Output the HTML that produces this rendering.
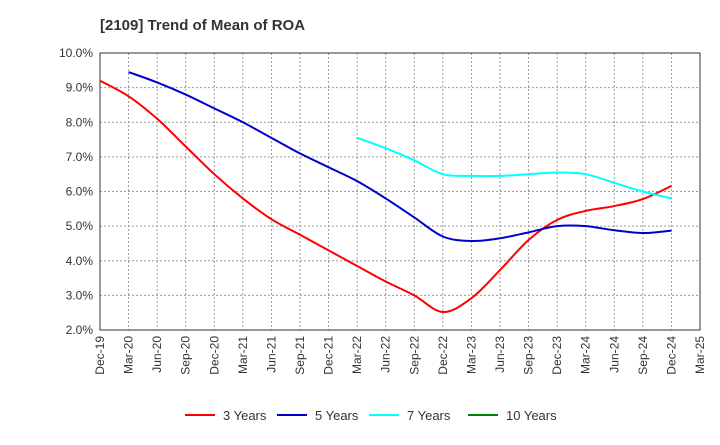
<!DOCTYPE html>
<html><head><meta charset="utf-8"><style>
body{margin:0;background:#fff;font-family:"Liberation Sans",Arial,sans-serif}
svg text{font-family:"Liberation Sans",Arial,sans-serif}
</style></head><body>
<svg id="c" width="720" height="440"></svg>
<script>
const categories=["Dec-19","Mar-20","Jun-20","Sep-20","Dec-20","Mar-21","Jun-21","Sep-21","Dec-21","Mar-22","Jun-22","Sep-22","Dec-22","Mar-23","Jun-23","Sep-23","Dec-23","Mar-24","Jun-24","Sep-24","Dec-24","Mar-25"];
const yTicks=[2,3,4,5,6,7,8,9,10];
const seriesNames=["3 Years","5 Years","7 Years","10 Years"];
const seriesColors=["#ff0000","#0000cc","#00ffff","#008000"];
const s3=[9.2,8.75,8.1,7.3,6.5,5.8,5.2,4.75,4.3,3.85,3.4,3.0,2.52,2.92,3.73,4.6,5.18,5.44,5.58,5.78,6.16];
const s5=[null,9.45,9.15,8.8,8.4,8.0,7.55,7.1,6.7,6.3,5.8,5.25,4.7,4.57,4.65,4.82,5.0,5.0,4.88,4.8,4.87];
const s7=[null,null,null,null,null,null,null,null,null,7.55,7.25,6.9,6.5,6.45,6.45,6.5,6.55,6.5,6.25,6.0,5.8];
const s10=[];
const NS="http://www.w3.org/2000/svg";
const svg=document.getElementById('c');
const L=100,R=700,T=53,B=330;
const x=i=>L+(R-L)*i/(categories.length-1);
const y=v=>B-(B-T)*(v-2)/8;
function mk(tag,attrs,parent){const e=document.createElementNS(NS,tag);for(const k in attrs)e.setAttribute(k,attrs[k]);(parent||svg).appendChild(e);return e;}
let t=mk('text',{x:100,y:30,'font-size':15,'font-weight':'bold',fill:'#333'});


t.textContent="[2109]  Trend of Mean of ROA";
yTicks.forEach(v=>{
 const g=mk('line',{x1:L,x2:R,y1:y(v),y2:y(v),stroke:'#999','stroke-dasharray':'2,2','stroke-width':1});
 
 
 const l=mk('text',{x:L-7,y:y(v)+4,'text-anchor':'end','font-size':12,fill:'#333'});
 
 
 l.textContent=v.toFixed(1)+"%";
});
categories.forEach((c,i)=>{
 const g=mk('line',{x1:x(i),x2:x(i),y1:T,y2:B,stroke:'#999','stroke-dasharray':'2,2','stroke-width':1});
 
 
 const l=mk('text',{transform:`translate(${x(i)+4},${B+6}) rotate(-90)`,'text-anchor':'end','font-size':12,fill:'#333'});
 
 
 l.textContent=c;
});
const fr=mk('rect',{x:L,y:T,width:R-L,height:B-T,fill:'none',stroke:'#333'});


function path(data){
 const p=[];data.forEach((v,i)=>{if(v!=null)p.push([x(i),y(v)]);});
 if(p.length<2)return "";
 let d=`M${p[0][0]},${p[0][1]}`;
 for(let i=0;i<p.length-1;i++){
  const p0=p[i-1]||p[i],p1=p[i],p2=p[i+1],p3=p[i+2]||p2;
  d+=`C${p1[0]+(p2[0]-p0[0])/6},${p1[1]+(p2[1]-p0[1])/6} ${p2[0]-(p3[0]-p1[0])/6},${p2[1]-(p3[1]-p1[1])/6} ${p2[0]},${p2[1]}`;
 }
 return d;
}
[s3,s5,s7,s10].forEach((s,k)=>{
 const d=path(s);if(!d)return;
 const e=mk('path',{d:d,fill:'none',stroke:seriesColors[k],'stroke-width':2});
 
 
});
const lx=[185,277,369,468];
seriesNames.forEach((n,k)=>{
 const g=mk('g',{});
 
 
 mk('line',{x1:lx[k],x2:lx[k]+30,y1:415,y2:415,stroke:seriesColors[k],'stroke-width':2},g);
 const tx=mk('text',{x:lx[k]+38,y:420,'font-size':13,fill:'#333'},g);
 tx.textContent=n;
});
</script>
</body></html>
